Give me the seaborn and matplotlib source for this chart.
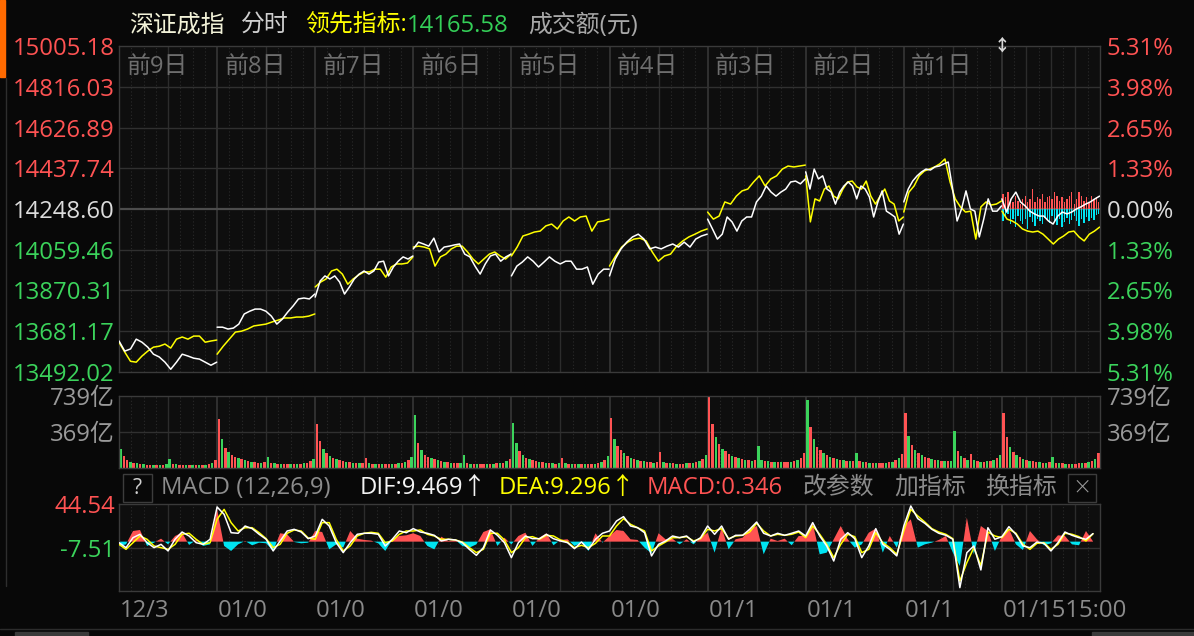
import numpy as np
import pandas as pd
import matplotlib
matplotlib.use("Agg")
import matplotlib.pyplot as plt
from matplotlib.lines import Line2D
from matplotlib.patches import Rectangle
import seaborn as sns

# ---------------- data ----------------
price_labels = ["15005.18", "14816.03", "14626.89", "14437.74", "14248.60",
                "14059.46", "13870.31", "13681.17", "13492.02"]
pct_ticks = [5.31, 3.98, 2.65, 1.33, 0.00, -1.33, -2.65, -3.98, -5.31]
pct_labels = ["5.31%", "3.98%", "2.65%", "1.33%", "0.00%",
              "1.33%", "2.65%", "3.98%", "5.31%"]
day_labels = ["前9日", "前8日", "前7日", "前6日", "前5日", "前4日", "前3日", "前2日", "前1日"]
date_labels = ["12/3", "01/0", "01/0", "01/0", "01/0", "01/0", "01/1", "01/1", "01/1", "01/1515:00"]

# % change vs. 14248.60, one list per trading day (oldest first)
index_pct = [
    [-4.30, -4.63, -4.56, -4.24, -4.34, -4.50, -4.73, -4.82, -4.99, -5.22, -4.99, -4.73, -4.79, -4.86, -4.89, -4.99, -5.09, -4.99],
    [-3.85, -3.85, -3.91, -3.88, -3.75, -3.42, -3.33, -3.26, -3.26, -3.33, -3.49, -3.75, -3.59, -3.36, -3.16, -2.93, -2.90, -2.93, -2.77],
    [-2.87, -2.35, -2.18, -2.28, -2.18, -2.38, -2.77, -2.54, -2.28, -2.12, -2.02, -2.12, -2.02, -1.73, -1.70, -2.18, -1.89, -1.70, -1.56, -1.63, -1.53],
    [-1.30, -1.08, -1.14, -1.21, -0.95, -1.40, -1.24, -1.21, -1.17, -1.14, -1.47, -1.56, -1.86, -2.12, -1.79, -1.53, -1.47, -1.70, -1.56, -1.47],
    [-2.18, -1.86, -1.73, -1.56, -1.70, -1.89, -1.73, -1.56, -1.70, -1.79, -1.70, -1.70, -1.96, -1.96, -1.89, -2.45, -2.12, -1.96, -1.96],
    [-2.18, -1.63, -1.30, -1.08, -0.91, -0.82, -0.98, -1.30, -1.24, -1.30, -1.21, -1.14, -1.24, -1.08, -1.24, -0.98, -0.88, -0.82],
    [-0.33, -0.65, -0.98, -0.82, -0.26, -0.42, -0.72, -0.39, -0.26, -0.26, 0.23, 0.42, 0.75, 0.55, 0.42, 0.55, 0.65, 0.88, 0.91, 0.82, 0.98],
    [1.21, 0.65, 1.30, 0.98, 1.08, 0.65, 0.55, 0.16, 0.55, 0.75, 0.88, 0.75, 0.33, 0.75, 0.65, 0.39, -0.26, 0.23, 0.59, -0.07, -0.16, -0.26, -0.82, -0.49],
    [0.23, 0.65, 0.91, 1.08, 1.21, 1.30, 1.27, 1.37, 1.40, 1.47, 1.53, 0.65, -0.39, 0.00, 0.59, 0.00, -0.07, -0.91, -0.33, 0.33, -0.07, -0.07, 0.10],
    [0.33, -0.10, 0.33, 0.55, 0.23, 0.10, -0.07, -0.16, -0.23, -0.23, -0.39, -0.49, -0.23, -0.10, -0.16, -0.10, 0.00, 0.07, 0.16, 0.23, 0.33, 0.42],
]
lead_pct = [
    [-4.34, -4.66, -4.96, -4.99, -4.79, -4.63, -4.50, -4.47, -4.40, -4.53, -4.24, -4.17, -4.24, -4.14, -4.14, -4.34, -4.30, -4.27],
    [-4.73, -4.47, -4.24, -4.01, -3.98, -3.91, -3.81, -3.78, -3.75, -3.68, -3.62, -3.55, -3.55, -3.52, -3.52, -3.49, -3.42],
    [-2.54, -2.38, -2.28, -2.02, -1.96, -2.12, -2.45, -2.28, -2.15, -2.05, -2.05, -1.96, -1.96, -2.22, -1.89, -1.79, -1.79, -1.76, -1.56],
    [-1.24, -1.21, -1.24, -1.30, -1.86, -1.56, -1.47, -1.30, -1.21, -1.21, -1.40, -1.63, -1.79, -1.63, -1.47, -1.40, -1.53, -1.63, -1.47],
    [-1.53, -1.24, -0.88, -0.82, -0.75, -0.72, -0.55, -0.49, -0.65, -0.39, -0.26, -0.39, -0.26, -0.23, -0.72, -0.42, -0.39, -0.33],
    [-1.86, -1.53, -1.24, -1.08, -0.98, -0.95, -1.04, -1.40, -1.70, -1.53, -1.47, -1.21, -1.04, -0.91, -0.82, -0.72, -0.65],
    [-0.10, -0.33, -0.23, 0.23, 0.16, 0.42, 0.59, 0.65, 0.88, 1.08, 0.75, 0.98, 1.08, 1.30, 1.40, 1.37, 1.40, 1.43],
    [1.08, -0.42, 0.33, 0.26, 0.65, 0.75, 0.42, 0.33, 0.65, 0.88, 0.91, 0.72, 0.65, 0.91, 0.42, 0.16, 0.42, 0.65, 0.26, 0.16, -0.39, -0.26],
    [-0.10, 0.55, 0.75, 1.08, 1.24, 1.30, 1.37, 1.47, 1.63, 0.88, 0.33, 0.07, -0.10, -0.07, -0.98, 0.07, 0.23, 0.13, 0.16, 0.26],
    [-0.07, -0.33, -0.39, -0.49, -0.65, -0.72, -0.75, -0.72, -0.82, -0.98, -1.14, -0.98, -0.88, -0.75, -0.72, -0.91, -1.04, -0.82, -0.72, -0.59],
]
# today's buy / sell strength bars around the 0% line
now_buy = [0.49, 0.39, 0.55, 0.33, 0.23, 0.42, 0.26, 0.16, 0.33, 0.42, 0.23, 0.33, 0.65, 0.23, 0.39, 0.33, 0.49, 0.23, 0.39, 0.42,
           0.33, 0.55, 0.42, 0.26, 0.39, 0.23, 0.33, 0.42, 0.55, 0.16, 0.33, 0.55, 0.42, 0.26, 0.39, 0.23, 0.42, 0.33, 0.39, 0.23]
now_sell = [-0.39, -0.26, -0.16, -0.49, -0.33, -0.59, -0.23, -0.39, -0.49, -0.33, -0.65, -0.26, -0.42, -0.55, -0.33, -0.39, -0.49, -0.29, -0.36, -0.46,
            -0.23, -0.39, -0.52, -0.33, -0.59, -0.42, -0.29, -0.49, -0.36, -0.23, -0.39, -0.55, -0.33, -0.46, -0.26, -0.39, -0.29, -0.36, -0.20, -0.16]

# turnover (亿), 30 bars per day, with bar colours (r = up, g = down)
volume = [
    [200, 120, 85, 65, 55, 48, 42, 38, 35, 33, 32, 30, 30, 32, 38, 95, 42, 36, 32, 30, 30, 30, 28, 28, 30, 32, 35, 42, 55, 80],
    [500, 300, 210, 160, 130, 110, 100, 90, 80, 72, 66, 60, 56, 55, 60, 110, 56, 50, 46, 45, 44, 42, 40, 40, 44, 46, 50, 56, 70, 95],
    [450, 280, 200, 150, 120, 100, 90, 80, 72, 66, 60, 55, 52, 50, 55, 100, 50, 46, 45, 42, 40, 40, 40, 44, 45, 48, 52, 60, 80, 110],
    [545, 260, 180, 135, 110, 100, 90, 80, 72, 66, 60, 55, 52, 50, 55, 130, 52, 46, 45, 42, 40, 40, 40, 44, 45, 48, 52, 56, 70, 90],
    [460, 260, 170, 130, 105, 92, 82, 72, 66, 60, 56, 52, 50, 46, 50, 100, 50, 45, 42, 40, 40, 40, 40, 42, 45, 46, 50, 60, 80, 120],
    [510, 300, 230, 180, 150, 120, 100, 90, 82, 75, 70, 65, 60, 56, 60, 160, 60, 55, 50, 50, 46, 45, 45, 50, 50, 55, 60, 70, 90, 130],
    [730, 450, 320, 250, 200, 170, 140, 120, 110, 100, 90, 85, 80, 75, 80, 230, 80, 75, 70, 65, 60, 60, 60, 60, 65, 65, 70, 80, 100, 150],
    [700, 420, 300, 220, 180, 150, 130, 110, 100, 90, 85, 80, 75, 70, 75, 150, 70, 65, 60, 55, 55, 50, 50, 55, 55, 60, 65, 80, 100, 140],
    [565, 330, 240, 180, 150, 130, 110, 100, 90, 85, 80, 75, 70, 70, 75, 380, 170, 120, 100, 85, 140, 80, 70, 65, 65, 70, 75, 80, 100, 130],
    [565, 320, 220, 160, 130, 110, 95, 85, 75, 70, 65, 60, 55, 55, 60, 110, 55, 50, 50, 45, 45, 45, 45, 50, 50, 55, 60, 70, 90, 150],
]
vol_colors = [
    "grrgrgrgrrgrgrggrgrrgrgrgrgrgr",
    "rgrgrrgrgrgrrgrgrgrgrrgrgrgrrg",
    "rrgrgrgrrgrgrgrrgrgrgrrgrgrgrg",
    "grgrrgrgrgrgrrggrgrgrrgrgrgrgr",
    "ggrgrgrrgrgrgrgrgrgrgrgrrgrgrg",
    "rgrrgrgrgrgrrgrrgrgrgrrgrgrgrg",
    "rrgrgrrgrgrgrgrggrgrgrgrrgrgrr",
    "grgrrgrgrgrgrgrgrgrgrgrrgrgrgr",
    "rgrgrgrrgrgrgrggrgrgrgrgrgrgrg",
    "rrgrgrgrgrrgrgrgrgrgrgrrgrgrgr",
]

# MACD(12,26,9), 14 readings per day
dif = [-1.2, -7.1, 4.7, 8.7, -1.2, -7.1, -3.2, -11.0, 2.8, 11.4, 6.7, -1.2, -3.2, 2.8,
       41.0, 32.3, 10.6, 9.9, 18.5, 15.4, 8.7, 2.8, -11.0, 0.8, 12.6, 14.6, 11.4, 3.5,
       6.7, 26.4, 18.5, -1.2, -13.0, -1.2, 8.7, 9.9, 9.9, 8.7, -5.1, 2.8, 12.6, 10.6,
       15.4, 11.4, 9.9, 7.5, 0.8, 2.8, 2.0, -1.2, -9.1, -16.2, -7.1, 13.8, 7.5, -1.2,
       -18.9, -1.2, 6.7, 3.5, 3.5, 8.7, 3.5, 0.8, -1.2, -8.3, -0.4, -9.1, 2.8, 9.9,
       12.6, 24.4, 29.6, 18.5, 16.5, 10.6, -16.9, -3.2, 0.8, 6.7, 4.7, 6.7, -0.4, 4.7,
       18.5, 8.7, 18.5, 2.8, 7.5, 7.5, 14.6, 23.2, 9.9, 6.7, 9.9, 7.5, 9.9, 12.6,
       6.7, 22.5, 6.7, -5.1, -22.9, 2.8, 10.6, 3.5, -18.9, -5.1, 15.4, -3.2, -9.1, -16.9,
       18.5, 42.2, 27.2, 21.7, 14.6, 9.9, 7.5, 2.8, -54.4, -13.0, -5.1, -33.5, 16.5, 2.8,
       5.9, 17.7, 8.7, -5.1, -7.1, -0.4, -2.0, -11.0, -1.2, 11.4, 7.5, 4.7, 2.8, 9.5]
dea = [-3.2, -9.1, -1.2, 6.7, 2.8, -5.1, -7.1, -9.1, -3.2, 8.7, 9.9, 2.8, -3.2, -1.2,
       26.4, 38.2, 22.5, 12.6, 16.5, 16.5, 10.6, 3.5, -7.1, -3.2, 9.9, 13.8, 12.6, 4.3,
       2.8, 22.5, 22.5, 2.8, -11.0, -5.1, 6.7, 9.9, 11.0, 9.9, -1.2, 0.8, 8.7, 12.6,
       12.6, 13.8, 8.7, 6.7, 2.8, 2.8, 2.0, -0.4, -7.1, -13.0, -9.1, 9.9, 9.9, 2.0,
       -13.0, -7.1, 4.7, 5.9, 2.8, 7.5, 6.7, 2.0, -0.4, -7.1, -4.3, -7.1, -2.0, 6.7,
       6.7, 18.5, 27.2, 20.5, 16.5, 12.6, -11.0, -5.1, -0.4, 4.7, 4.7, 5.9, 0.8, 3.5,
       14.6, 12.6, 15.4, 3.5, 6.7, 7.5, 11.4, 21.7, 12.6, 6.7, 8.7, 7.5, 8.7, 11.4,
       4.7, 18.5, 8.7, -3.2, -18.9, -3.2, 8.7, 5.9, -13.0, -9.1, 10.6, -1.2, -7.1, -15.0,
       12.6, 38.2, 30.3, 23.2, 15.4, 11.4, 8.7, 3.5, -46.5, -24.8, -7.1, -28.4, 11.4, 6.7,
       4.7, 14.6, 9.9, -3.2, -9.1, -2.0, -1.2, -9.1, -3.2, 9.9, 8.7, 5.9, 0.8, 9.3]
macd_bar = [-5.1, -3.2, 12.6, 13.8, -5.1, -1.2, 3.5, -3.2, 6.7, 10.6, -3.9, 2.0, -5.1, -3.2,
            38.2, -5.1, -11.0, -3.2, 0.8, -4.3, -1.2, -2.0, -11.0, 9.9, 8.7, -0.4, -2.0, -1.2,
            12.6, 11.4, -9.1, -3.2, -7.1, 12.6, 3.5, 2.0, 1.2, -2.0, -11.0, 2.8, 6.7, 7.5,
            9.9, 6.7, -5.1, -9.1, 5.9, 0.8, 2.0, -5.1, -7.1, -3.2, 11.4, 14.6, -5.1, 4.7,
            -3.2, 6.7, 10.6, -5.1, 4.7, 9.9, -4.3, 2.0, 2.8, -5.1, -1.2, -11.0, 9.9, -1.2,
            6.7, 13.8, 12.6, 2.8, 2.0, -7.1, -13.8, 9.9, 2.8, 3.5, -3.2, 2.8, -3.2, 4.7,
            10.6, -13.0, 16.5, -9.1, 2.8, 4.7, 14.6, 18.5, -15.0, 3.5, 0.8, 3.5, -4.3, 6.7,
            6.7, 21.7, -15.0, -13.0, 2.8, 18.5, 2.8, -7.1, -3.2, 10.6, 15.4, -13.0, 6.7, -7.1,
            18.5, 26.4, -7.1, -3.2, -1.2, 2.0, 6.7, -13.0, -28.8, 28.4, -15.0, 18.5, 12.6, -11.0,
            6.7, 15.4, -3.2, -9.9, 12.6, 2.8, -4.3, -2.0, 7.5, 6.7, -3.2, -4.3, 12.6, 0.35]

# ---------------- style ----------------
W, H = 1194, 636
BG = "#080808"
PANEL = "#0e0e0e"
RED = "#ff5353"
GREEN = "#3bd35b"
CYAN = "#00e4f2"
YELLOW = "#ffff00"
FRAME = "#3a3a3a"

sns.set_theme(style="dark", rc={"figure.facecolor": BG, "axes.facecolor": PANEL,
                                "axes.edgecolor": FRAME, "axes.grid": False})
plt.rcParams["font.family"] = ["Open Sans", "Noto Sans CJK SC", "DejaVu Sans"]
FS = 17.2


def fx(x):
    return x / W


def fy(y):
    return 1 - y / H


def vgrid(a):
    for t in range(30, 2400, 30):
        if t % 240 == 0:
            a.axvline(t, color="#363636", lw=1.2, zorder=0)
        elif t % 120 == 0 or (t > 2160 and t % 60 == 0):
            a.axvline(t, color="#2c2c2c", lw=1.0, zorder=0)
        else:
            a.axvline(t, color="#2a2a2a", lw=0.8, ls=(0, (1, 2)), zorder=0)


def frame(a):
    for s in a.spines.values():
        s.set_color(FRAME)
        s.set_linewidth(1.0)
    a.set_xlim(0, 2400)
    a.set_xlabel("")
    a.set_ylabel("")


def box(x0, y0, x1, y1):
    fig.add_artist(Rectangle((fx(x0), fy(y1)), (x1 - x0) / W, (y1 - y0) / H, fc="none",
                             ec="#3c3c3c", lw=1, transform=fig.transFigure))


fig = plt.figure(figsize=(W / 100, H / 100), dpi=100)
ax = fig.add_axes([fx(119), fy(372), 981 / W, 326 / H])
ax_vol = fig.add_axes([fx(119), fy(468), 981 / W, 72 / H])
ax_macd = fig.add_axes([fx(119), fy(591), 981 / W, 87 / H])

# ---------------- main price panel ----------------
rows = []
for k in range(10):
    for name, series in (("lead", lead_pct), ("index", index_pct)):
        vals = series[k]
        t = 240 * k + np.linspace(0, 239, len(vals))
        rows += [{"t": a, "pct": b, "day": k, "series": name} for a, b in zip(t, vals)]
df = pd.DataFrame(rows)

vgrid(ax)
for p in pct_ticks[1:-1]:
    if p == 0:
        ax.axhline(p, color="#4c4c4c", lw=1.6, zorder=0)
    else:
        ax.axhline(p, color="#303030", lw=1.0, zorder=0)

t_now = 2160 + 3 + 6 * np.arange(len(now_buy))
ax.bar(t_now, now_buy, width=3.4, color=RED, lw=0, zorder=2)
ax.bar(t_now, now_sell, width=3.4, color=CYAN, lw=0, zorder=2)

sns.lineplot(data=df[df.series == "lead"], x="t", y="pct", units="day", estimator=None,
             color=YELLOW, lw=1.1, ax=ax, zorder=3)
sns.lineplot(data=df[df.series == "index"], x="t", y="pct", units="day", estimator=None,
             color="white", lw=1.1, ax=ax, zorder=4)
frame(ax)
ax.set_ylim(-5.31, 5.31)
ax.set_xticks([])
ax.set_yticks(pct_ticks)
ax.set_yticklabels(price_labels)
ax.tick_params(axis="y", length=0, pad=3, labelsize=FS)
tick_cols = [RED] * 4 + ["#dcdcdc"] + [GREEN] * 4
for lbl, c in zip(ax.get_yticklabels(), tick_cols):
    lbl.set_color(c)
axr = ax.twinx()
axr.set_ylim(-5.31, 5.31)
axr.set_yticks(pct_ticks)
axr.set_yticklabels(pct_labels)
axr.tick_params(axis="y", length=0, pad=5, labelsize=FS)
for lbl, c in zip(axr.get_yticklabels(), tick_cols):
    lbl.set_color(c)
for s in axr.spines.values():
    s.set_visible(False)
for k, lab in enumerate(day_labels):
    ax.text(240 * k + 18, 4.62, lab, color="#6e6e6e", fontsize=FS, va="center", ha="left")
ax.text(2160, 5.31, "↕", color="#d8d8d8", fontsize=12, fontweight="bold",
        ha="center", va="center", zorder=6)

# ---------------- turnover panel ----------------
vgrid(ax_vol)
ax_vol.axhline(369, color="#303030", lw=1.0, zorder=0)
for k in range(10):
    t = 240 * k + 4 + 8 * np.arange(len(volume[k]))
    cols = [RED if c == "r" else GREEN for c in vol_colors[k]]
    ax_vol.bar(t, volume[k], width=6, color=cols, lw=0, zorder=2)
frame(ax_vol)
ax_vol.set_ylim(0, 739)
ax_vol.set_xticks([])
ax_vol.set_yticks([369, 739])
ax_vol.set_yticklabels(["369亿", "739亿"])
ax_vol.tick_params(axis="y", length=0, pad=3, labelsize=FS, labelcolor="#9a9a9a")
ax_vr = ax_vol.twinx()
ax_vr.set_ylim(0, 739)
ax_vr.set_yticks([369, 739])
ax_vr.set_yticklabels(["369亿", "739亿"])
ax_vr.tick_params(axis="y", length=0, pad=5, labelsize=FS, labelcolor="#9a9a9a")
for s in ax_vr.spines.values():
    s.set_visible(False)

# ---------------- MACD panel ----------------
vgrid(ax_macd)
ax_macd.axhline(-7.51, color="#303030", lw=1.0, zorder=0)
t_m = np.arange(len(dif)) * 240 / 14
hist = np.array(macd_bar)
ax_macd.fill_between(t_m, hist, 0, where=hist >= 0, interpolate=True, color=RED, lw=0, zorder=2)
ax_macd.fill_between(t_m, hist, 0, where=hist <= 0, interpolate=True, color=CYAN, lw=0, zorder=2)
sns.lineplot(x=t_m, y=dea, color=YELLOW, lw=1.1, ax=ax_macd, zorder=3)
sns.lineplot(x=t_m, y=dif, color="white", lw=1.1, ax=ax_macd, zorder=4)
frame(ax_macd)
ax_macd.set_ylim(-58.4, 44.54)
ax_macd.set_yticks([-7.51, 44.54])
ax_macd.set_yticklabels(["-7.51", "44.54"])
ax_macd.tick_params(axis="y", length=0, pad=3, labelsize=FS)
ax_macd.get_yticklabels()[0].set_color(GREEN)
ax_macd.get_yticklabels()[1].set_color(RED)
ax_macd.set_xticks([240 * k + 2 for k in range(10)])
ax_macd.set_xticklabels(date_labels)
ax_macd.tick_params(axis="x", length=0, pad=6, labelsize=FS, labelcolor="#8a8a8a")
for lbl in ax_macd.get_xticklabels():
    lbl.set_ha("left")

# ---------------- header texts ----------------
ty = fy(26)
fig.text(fx(129), ty, "深证成指", color="#f2f2d8", fontsize=FS, va="center")
fig.text(fx(241), ty, "分时", color="#cfcfcf", fontsize=FS, va="center")
fig.text(fx(305), ty, "领先指标:", color=YELLOW, fontsize=FS, va="center")
fig.text(fx(407), ty, "14165.58", color="#34cf58", fontsize=FS, va="center")
fig.text(fx(528), ty, "成交额(元)", color="#a8a8a8", fontsize=FS, va="center")

my = fy(488)
box(123, 474, 152, 502)
fig.text(fx(137.5), my, "?", color="#d0d0d0", fontsize=FS - 2, va="center", ha="center")
fig.text(fx(161), my, "MACD (12,26,9)", color="#8c8c8c", fontsize=FS, va="center")
fig.text(fx(360), my, "DIF:9.469↑", color="#f4f4f4", fontsize=FS, va="center")
fig.text(fx(499), my, "DEA:9.296↑", color=YELLOW, fontsize=FS, va="center")
fig.text(fx(647), my, "MACD:0.346", color=RED, fontsize=FS, va="center")
fig.text(fx(803), my, "改参数", color="#8c8c8c", fontsize=FS, va="center")
fig.text(fx(894), my, "加指标", color="#8c8c8c", fontsize=FS, va="center")
fig.text(fx(985), my, "换指标", color="#8c8c8c", fontsize=FS, va="center")
box(1068, 474, 1096, 502)
fig.text(fx(1082), my, "×", color="#9a9a9a", fontsize=FS + 2, va="center", ha="center",
         fontweight="light")

# window chrome bits
fig.add_artist(Rectangle((0, fy(77)), fx(5), 77 / H, color="#ff6a00", transform=fig.transFigure))
fig.add_artist(Line2D([fx(6), fx(6)], [fy(78), fy(586)], color="#2e2e2e", lw=1))
fig.add_artist(Line2D([0, 1], [fy(629), fy(629)], color="#2c2c2c", lw=1))
fig.add_artist(Rectangle((fx(15), 0), fx(73), 4 / H, color="#3a3a3a", transform=fig.transFigure))
fig.add_artist(Rectangle((fx(1092), 0), fx(102), 4 / H, color="#3a3a3a", transform=fig.transFigure))

fig.savefig("out.png", dpi=100, facecolor=BG)
